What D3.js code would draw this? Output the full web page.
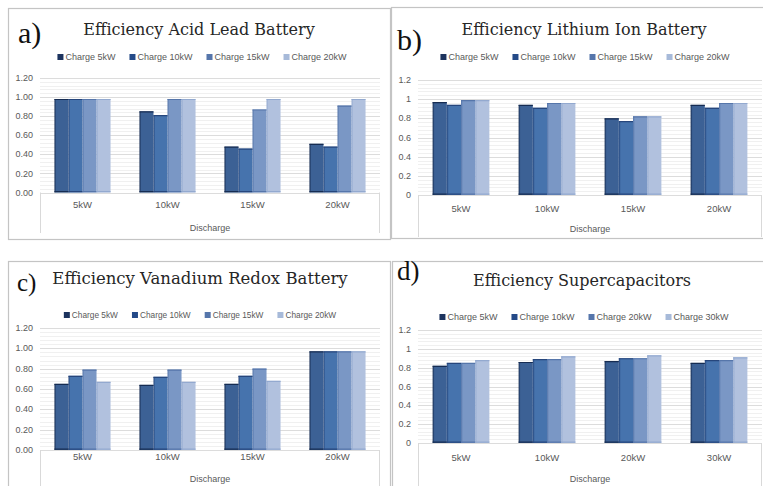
<!DOCTYPE html>
<html>
<head>
<meta charset="utf-8">
<script src="https://cdn.jsdelivr.net/npm/d3@7"></script>
<style>
  body { margin: 0; background: #fff; }
  text { font-family: "Liberation Sans", Arial, sans-serif; }
</style>
</head>
<body>
<div id="chart"></div>
<script>
// discharge categories (x axis) and charge series (legend)
var dischargeBattery = ["5kW", "10kW", "15kW", "20kW"];
var dischargeSuper = ["5kW", "10kW", "20kW", "30kW"];
var chargeBattery = ["Charge 5kW", "Charge 10kW", "Charge 15kW", "Charge 20kW"];
var chargeSuper = ["Charge 5kW", "Charge 10kW", "Charge 20kW", "Charge 30kW"];

// one row per discharge category, one value per charge series
var acidLead = [
    [0.98, 0.98, 0.98, 0.98],
    [0.85, 0.81, 0.98, 0.98],
    [0.48, 0.46, 0.87, 0.98],
    [0.51, 0.48, 0.91, 0.98]
];
var lithiumIon = [
    [0.97, 0.94, 0.99, 0.99],
    [0.94, 0.91, 0.96, 0.96],
    [0.80, 0.77, 0.82, 0.82],
    [0.94, 0.91, 0.96, 0.96]
];
var vanadiumRedox = [
    [0.65, 0.73, 0.79, 0.67],
    [0.64, 0.72, 0.79, 0.67],
    [0.65, 0.73, 0.80, 0.68],
    [0.97, 0.97, 0.97, 0.97]
];
var supercap = [
    [0.82, 0.85, 0.85, 0.88],
    [0.86, 0.89, 0.89, 0.92],
    [0.87, 0.90, 0.90, 0.93],
    [0.85, 0.88, 0.88, 0.91]
];
var yTicks = [0, 0.2, 0.4, 0.6, 0.8, 1.0, 1.2];

// bar colours: fill, darker edge, legend swatch
var barFill = ["#3c6195", "#4673ad", "#7a97c5", "#b1c1de"];
var barEdge = ["#162c52", "#26467c", "#5676aa", "#93a9cf"];
var swatch = ["#1c335e", "#244a88", "#5676ab", "#a7bad9"];

var svg = d3.select("#chart").append("svg")
    .attr("width", 763)
    .attr("height", 486);

var defs = svg.append("defs");
barFill.forEach(function(c, i) {
    var g = defs.append("linearGradient")
        .attr("id", "bar" + i)
        .attr("x1", "0").attr("x2", "1").attr("y1", "0").attr("y2", "0");
    g.append("stop").attr("offset", "0").attr("stop-color", barEdge[i]);
    g.append("stop").attr("offset", "0.14").attr("stop-color", c);
    g.append("stop").attr("offset", "1").attr("stop-color", c);
});

var panels = [
    {tag: "a)", tagSize: 30, tagX: 18, tagY: 43, title: "Efficiency Acid Lead Battery", titleX: 199, titleY: 35, titleSize: 16,
     frame: [8, 8, 382, 231], legendX: 202, legendY: 57, legendSize: 9,
     x0: 40, x1: 380, yZero: 192.5, yTop: 78, catY: 205, axisY: 228, boxBottom: 233,
     categories: dischargeBattery, series: chargeBattery, values: acidLead, fmt: d3.format(".2f")},
    {tag: "b)", tagSize: 30, tagX: 397, tagY: 50, title: "Efficiency Lithium Ion Battery", titleX: 584, titleY: 35, titleSize: 16,
     frame: [391, 7, 380, 231], legendX: 585, legendY: 57, legendSize: 9,
     x0: 418, x1: 762, yZero: 195, yTop: 80, catY: 209, axisY: 229, boxBottom: 237,
     categories: dischargeBattery, series: chargeBattery, values: lithiumIon, fmt: d3.format("~g")},
    {tag: "c)", tagSize: 25, tagX: 17, tagY: 291, title: "Efficiency Vanadium Redox Battery", titleX: 200, titleY: 284, titleSize: 16.5,
     frame: [8, 261, 382, 240], legendX: 200, legendY: 315, legendSize: 8.3,
     x0: 40, x1: 380, yZero: 450, yTop: 328, catY: 457, axisY: 479, boxBottom: 490,
     categories: dischargeBattery, series: chargeBattery, values: vanadiumRedox, fmt: d3.format(".2f")},
    {tag: "d)", tagSize: 27, tagX: 397, tagY: 280, title: "Efficiency Supercapacitors", titleX: 582, titleY: 286, titleSize: 16,
     frame: [392, 261, 380, 240], legendX: 584, legendY: 317, legendSize: 9,
     x0: 418, x1: 762, yZero: 443, yTop: 330, catY: 458, axisY: 479, boxBottom: 490,
     categories: dischargeSuper, series: chargeSuper, values: supercap, fmt: d3.format("~g")}
];

panels.forEach(drawPanel);

function drawPanel(p) {
    var g = svg.append("g");

    g.append("rect")
        .attr("x", p.frame[0] + 0.5).attr("y", p.frame[1] + 0.5)
        .attr("width", p.frame[2]).attr("height", p.frame[3])
        .attr("fill", "#fff").attr("stroke", "#c4c4c4").attr("stroke-width", 1.2);

    var y = d3.scaleLinear().domain([0, 1.2]).range([p.yZero, p.yTop]);
    var x = d3.scaleBand().domain(p.categories).range([p.x0, p.x1])
        .paddingInner(0.34).paddingOuter(0.17);
    var xs = d3.scaleBand().domain(p.series).range([0, x.bandwidth()]);

    // minor gridlines (Excel minor unit = major / 5)
    var minor = d3.range(1, 30).map(function(i) { return i * 0.04; });
    g.append("g").selectAll("line").data(minor).enter().append("line")
        .attr("x1", p.x0).attr("x2", p.x1)
        .attr("y1", function(d) { return Math.round(y(d)) + 0.5; })
        .attr("y2", function(d) { return Math.round(y(d)) + 0.5; })
        .attr("stroke", "#f0f0f0");

    // major gridlines
    g.append("g").selectAll("line").data(yTicks).enter().append("line")
        .attr("x1", p.x0).attr("x2", p.x1)
        .attr("y1", function(d) { return Math.round(y(d)) + 0.5; })
        .attr("y2", function(d) { return Math.round(y(d)) + 0.5; })
        .attr("stroke", "#dcdcdc");

    // y tick labels
    g.append("g").selectAll("text").data(yTicks).enter().append("text")
        .attr("x", p.x0 - 7)
        .attr("y", function(d) { return y(d); })
        .attr("dy", "0.35em")
        .attr("text-anchor", "end")
        .attr("font-size", 9)
        .attr("fill", "#595959")
        .text(p.fmt);

    // category box under the plot
    g.append("path")
        .attr("d", "M" + (p.x0 + 0.5) + "," + p.boxBottom + "V" + p.yZero +
                   "M" + (p.x1 - 0.5) + "," + p.boxBottom + "V" + p.yZero)
        .attr("stroke", "#d9d9d9").attr("fill", "none");

    // bars
    var groups = g.append("g").selectAll("g").data(p.values).enter().append("g")
        .attr("transform", function(d, i) { return "translate(" + x(p.categories[i]) + ",0)"; });

    groups.selectAll("rect").data(function(d) { return d; }).enter().append("rect")
        .attr("x", function(d, j) { return xs(p.series[j]); })
        .attr("y", function(d) { return y(d); })
        .attr("width", xs.bandwidth())
        .attr("height", function(d) { return y(0) - y(d); })
        .attr("fill", function(d, j) { return "url(#bar" + j + ")"; });

    groups.selectAll("path").data(function(d) { return d; }).enter().append("path")
        .attr("d", function(d, j) {
            var bx = xs(p.series[j]), w = xs.bandwidth();
            return "M" + bx + "," + (y(d) + 0.5) + "h" + w +
                   "M" + bx + "," + (y(0) - 0.8) + "h" + w;
        })
        .attr("stroke", function(d, j) { return barEdge[j]; })
        .attr("stroke-width", 1.2);

    // category labels
    g.append("g").selectAll("text").data(p.categories).enter().append("text")
        .attr("x", function(d) { return x(d) + x.bandwidth() / 2; })
        .attr("y", p.catY)
        .attr("dy", "0.35em")
        .attr("text-anchor", "middle")
        .attr("font-size", 9.5)
        .attr("fill", "#595959")
        .text(function(d) { return d; });

    g.append("text")
        .attr("x", (p.x0 + p.x1) / 2)
        .attr("y", p.axisY)
        .attr("dy", "0.35em")
        .attr("text-anchor", "middle")
        .attr("font-size", 9)
        .attr("fill", "#595959")
        .text("Discharge");

    // title and panel tag
    g.append("text")
        .attr("x", p.titleX).attr("y", p.titleY)
        .attr("text-anchor", "middle")
        .style("font-family", "'DejaVu Serif', serif")
        .attr("font-size", p.titleSize)
        .attr("fill", "#262626")
        .text(p.title);

    g.append("text")
        .attr("x", p.tagX).attr("y", p.tagY)
        .style("font-family", "'Liberation Serif', serif")
        .attr("font-size", p.tagSize)
        .attr("fill", "#111")
        .text(p.tag);

    // legend, laid out from the measured text widths
    var leg = g.append("g");
    var items = leg.selectAll("g").data(p.series).enter().append("g");
    items.append("rect")
        .attr("width", 6).attr("height", 6)
        .attr("y", p.legendY - 3)
        .attr("fill", function(d, j) { return swatch[j]; });
    items.append("text")
        .attr("x", 8)
        .attr("y", p.legendY)
        .attr("dy", "0.35em")
        .attr("font-size", p.legendSize)
        .attr("fill", "#595959")
        .text(function(d) { return d; });

    var gap = 14, widths = [];
    items.each(function() { widths.push(8 + d3.select(this).select("text").node().getComputedTextLength()); });
    var total = d3.sum(widths) + gap * (widths.length - 1);
    var cx = p.legendX - total / 2;
    items.attr("transform", function(d, j) {
        var t = "translate(" + cx + ",0)";
        cx += widths[j] + gap;
        return t;
    });
}
</script>
</body>
</html>
